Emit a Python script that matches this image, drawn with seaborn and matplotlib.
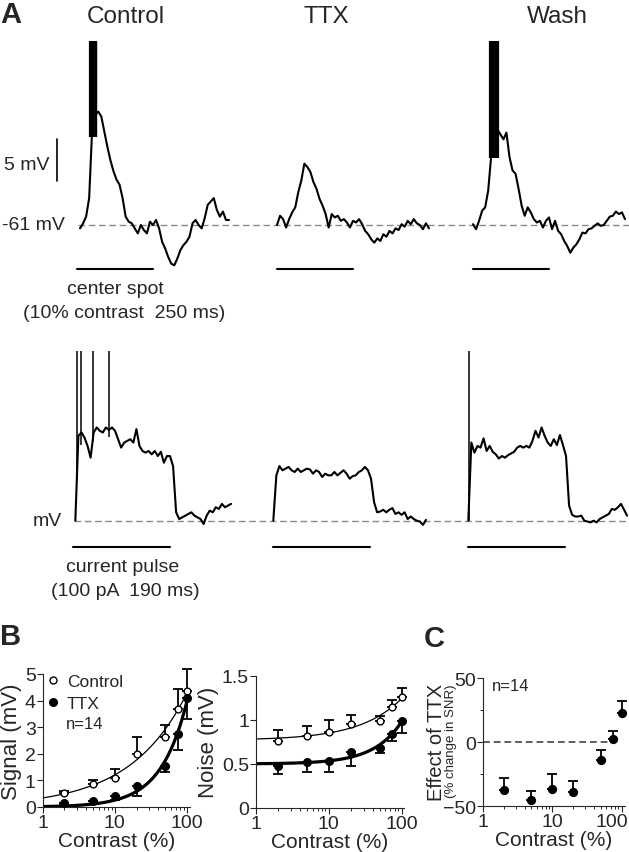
import numpy as np
import pandas as pd
import seaborn as sns
import matplotlib
matplotlib.use("Agg")
import matplotlib.pyplot as plt
from matplotlib.lines import Line2D
from matplotlib.transforms import ScaledTranslation

# ---- panel A: membrane potential traces (deflection from rest, mV) ----
rest_mv = -61
# visual stimulus row, samples every 10 ms
ctrl_spot_t0 = 10
ctrl_spot = [-0.4, 0.2, 1.0, 3.2, 11.5, 13.1, 13.5, 12.9, 11.1, 9.3,
             7.7, 6.4, 5.4, 4.8, 3.2, 1.0, 0.4, 0.2, -0.4, -1.0,
             0.0, -0.6, -1.0, 0.4, 0.0, 0.6, -0.4, -2.0, -2.8, -3.8,
             -4.6, -4.8, -4.0, -3.0, -2.4, -2.0, -1.4, 0.2, 0.6, 0.0,
             -0.4, 0.8, 2.4, 2.8, 3.2, 1.8, 1.0, 1.6, 0.6, 0.6]
ttx_spot_t0 = 0
ttx_spot = [0.0, 1.1, 0.7, -0.3, 0.7, 1.5, 2.1, 3.9, 5.3, 7.3,
            6.9, 6.3, 5.1, 4.3, 3.1, 2.3, 1.3, -0.3, 1.3, 0.9,
            1.1, 0.5, 0.7, 0.3, -0.3, 0.5, 0.3, 0.7, 0.1, -0.7,
            -1.1, -1.7, -2.1, -1.6, -1.9, -1.1, -1.4, -0.7, -1.0, -0.4,
            -0.6, 0.1, -0.2, 0.5, 0.1, 0.7, 0.2, 0.0, -0.5, 0.2, -0.4]
wash_spot_t0 = 0
wash_spot = [0.1, -0.5, 0.5, 1.7, 2.1, 4.1, 8.3, 10.2, 11.4, 10.8,
             10.2, 11.0, 8.1, 6.5, 6.1, 4.3, 2.3, 1.1, 2.1, 1.5,
             0.7, 0.3, 0.5, -0.3, 0.5, 0.9, -0.5, 0.5, -0.7, -1.1,
             -1.9, -2.5, -3.3, -2.7, -2.3, -1.7, -0.9, -1.0, -0.5, -0.4,
             -0.1, 0.2, -0.1, 0.0, 0.5, 1.0, 1.1, 1.6, 1.3, 1.5, 0.7]
spot_dt = 10
spot_dur = 250
ctrl_spot_spikes = [43, 46, 49, 52, 55, 58, 61, 64]
wash_spot_spikes = [56, 59, 62, 65, 68, 71, 74, 77, 80, 83]
spot_spike_peak = 21.9

# current injection row, samples every 6 ms
ctrl_pulse_t0 = 4
ctrl_pulse = [0.0, 10.1, 10.5, 9.9, 8.9, 7.5, 10.5, 11.1, 10.7, 10.5,
              11.1, 10.8, 11.1, 10.7, 9.7, 8.7, 9.3, 9.5, 9.7, 9.3,
              10.9, 8.9, 8.3, 8.1, 8.3, 7.9, 8.3, 7.7, 8.2, 6.9,
              7.7, 7.7, 6.5, 1.0, 0.2, 0.4, 0.6, 0.8, 1.0, 0.6,
              0.4, 0.2, -0.4, 0.6, 1.2, 1.0, 1.6, 1.4, 2.0, 1.6, 1.8, 2.0]
ttx_pulse_t0 = 0
ttx_pulse = [0.0, 5.4, 6.5, 6.0, 6.2, 6.4, 6.0, 5.8, 6.2, 5.8,
             6.0, 6.2, 6.1, 5.6, 6.0, 5.8, 5.2, 5.6, 5.4, 5.4,
             5.8, 5.4, 5.7, 6.0, 5.6, 5.0, 5.3, 5.4, 5.8, 6.0,
             6.4, 6.0, 5.0, 2.2, 1.0, 1.1, 1.3, 1.0, 1.3, 1.5,
             0.8, 1.0, 0.7, 1.0, 0.2, 0.5, 0.2, 0.0, -0.1, -0.5, 0.1]
wash_pulse_t0 = 0
wash_pulse = [0.0, 9.3, 8.1, 8.9, 8.7, 9.8, 8.3, 8.9, 8.2, 7.9,
              7.4, 7.7, 7.5, 7.8, 8.0, 8.2, 8.7, 8.9, 8.7, 8.9,
              8.7, 9.5, 10.7, 9.9, 11.1, 10.1, 9.3, 8.9, 9.7, 9.0,
              10.2, 9.0, 7.7, 1.8, 0.7, 0.5, 0.5, 0.6, 0.0, -0.1,
              -0.2, 0.0, -0.2, 0.2, 0.4, 0.6, 0.8, 1.4, 1.3, 1.6, 2.0, 1.3, 0.6]
pulse_dt = 6
pulse_dur = 190
ctrl_pulse_spikes = [6.6, 14.5, 38, 70.7]
ctrl_pulse_spike_base = [5, 9, 9.5, 10]
wash_pulse_spikes = [1]
wash_pulse_spike_base = [0]
pulse_spike_peak = 20.2

# ---- panel B / C ----
contrast = [2, 5, 10, 20, 50, 75, 100]
signal_ctrl = [0.54, 0.86, 1.08, 2.0, 2.65, 3.7, 4.37]
signal_ctrl_err = [0.08, 0.15, 0.34, 0.65, 0.44, 0.72, 0.83]
signal_ttx = [0.15, 0.24, 0.4, 0.78, 1.54, 2.74, 4.1]
signal_ttx_err = [0.03, 0.03, 0.15, 0.35, 0.24, 0.59, 0.8]
noise_ctrl = [0.765, 0.82, 0.867, 0.955, 0.985, 1.15, 1.26]
noise_ctrl_err = [0.115, 0.115, 0.133, 0.105, 0.06, 0.08, 0.10]
noise_ttx = [0.48, 0.52, 0.53, 0.63, 0.68, 0.84, 0.99]
noise_ttx_err = [0.09, 0.11, 0.12, 0.15, 0.06, 0.08, 0.14]
snr_effect = [-37, -44.8, -36.4, -38.5, -14, 2.9, 23]
snr_effect_err = [9.2, 6.8, 11.4, 8.1, 8.3, 5.7, 9]

W, H = 629, 853
sns.set_style("ticks")
plt.rcParams["font.family"] = ["Liberation Sans", "DejaVu Sans"]
fig = plt.figure(figsize=(W / 100, H / 100), dpi=100)


def fx(x):
    return x / W


def fy(y):
    return 1 - y / H


def px_axes(left, top, right, bottom):
    return fig.add_axes([fx(left), fy(bottom), (right - left) / W, (bottom - top) / H])


def trace(ax, vals, t0, dt, offset):
    t = offset + t0 + dt * np.arange(len(vals))
    sns.lineplot(x=t, y=vals, ax=ax, color="k", lw=1.5, estimator=None, sort=False)


# ---------------- panel A ----------------
spot_pxms = 0.304
pulse_pxms = 0.509
mv_px = 8.4

ax_top = px_axes(0, 30, W, 285)
ax_top.set_xlim(-77 / spot_pxms, (W - 77) / spot_pxms)
ax_top.set_ylim(-(285 - 226) / mv_px, (226 - 30) / mv_px)
ax_top.axis("off")
spot_offsets = [0, (277 - 77) / spot_pxms, (473 - 77) / spot_pxms]

ax_top.axhline(0, xmin=78 / W, xmax=1, color="#8a8a8a", lw=1.0, dashes=(4.8, 2.6))
for vals, t0, off in zip([ctrl_spot, ttx_spot, wash_spot],
                         [ctrl_spot_t0, ttx_spot_t0, wash_spot_t0], spot_offsets):
    trace(ax_top, vals, t0, spot_dt, off)
    ax_top.plot([off, off + spot_dur], [-5.24, -5.24], color="k", lw=1.5)
ax_top.vlines(ctrl_spot_spikes, 10.5, spot_spike_peak, color="k", lw=1.6)
ax_top.vlines(np.array(wash_spot_spikes) + spot_offsets[2], 8, spot_spike_peak, color="k", lw=1.6)
# 5 mV scale bar
ax_top.plot([-65.8, -65.8], [5.24, 5.24 + 5], color="k", lw=1.2)

ax_bot = px_axes(0, 330, W, 560)
ax_bot.set_xlim(-73.3 / pulse_pxms, (W - 73.3) / pulse_pxms)
ax_bot.set_ylim(-(560 - 521.7) / mv_px, (521.7 - 330) / mv_px)
ax_bot.axis("off")
pulse_offsets = [0, (273.3 - 73.3) / pulse_pxms, (468.3 - 73.3) / pulse_pxms]

ax_bot.axhline(0, xmin=74 / W, xmax=1, color="#8a8a8a", lw=1.0, dashes=(4.8, 2.6))
for vals, t0, off in zip([ctrl_pulse, ttx_pulse, wash_pulse],
                         [ctrl_pulse_t0, ttx_pulse_t0, wash_pulse_t0], pulse_offsets):
    trace(ax_bot, vals, t0, pulse_dt, off)
    ax_bot.plot([off, off + pulse_dur], [-3.13, -3.13], color="k", lw=1.5)
ax_bot.vlines(ctrl_pulse_spikes, ctrl_pulse_spike_base, pulse_spike_peak, color="k", lw=1.1)
ax_bot.vlines(np.array(wash_pulse_spikes) + pulse_offsets[2], wash_pulse_spike_base,
              pulse_spike_peak, color="k", lw=1.1)

fig.text(fx(0), fy(15), "A", fontsize=21, fontweight="bold", va="center", ha="left")
for name, xc in [("Control", 126), ("TTX", 326), ("Wash", 557)]:
    fig.text(fx(xc), fy(17), name, fontsize=17.5, ha="center", va="center")
fig.text(fx(50), fy(166), "5 mV", fontsize=14, ha="right", va="center")
fig.text(fx(65), fy(226), "-61 mV", fontsize=14, ha="right", va="center")
fig.text(fx(62), fy(522), "mV", fontsize=14, ha="right", va="center")
fig.text(fx(115), fy(290), "center spot", fontsize=14, ha="center", va="center")
fig.text(fx(124), fy(314), "(10% contrast  250 ms)", fontsize=14, ha="center", va="center")
fig.text(fx(123), fy(568), "current pulse", fontsize=14, ha="center", va="center")
fig.text(fx(125), fy(592), "(100 pA  190 ms)", fontsize=14, ha="center", va="center")


# ---------------- panels B and C ----------------
def power_fit(x, y, offset=True):
    # least-squares fit of y = a + b * c**n (a = 0 when offset is False)
    x = np.asarray(x, float)
    y = np.asarray(y, float)
    best = None
    for n in np.linspace(0.2, 3.0, 281):
        cols = [np.ones_like(x), x ** n] if offset else [x ** n]
        A = np.column_stack(cols)
        coef, *_ = np.linalg.lstsq(A, y, rcond=None)
        sse = np.sum((A @ coef - y) ** 2)
        if best is None or sse < best[0]:
            best = (sse, n, coef)
    _, n, coef = best
    a, b = (coef[0], coef[1]) if offset else (0.0, coef[0])
    return lambda c: a + b * c ** n


def style_log(ax, xmax):
    ax.set_xscale("log")
    ax.set_xlim(1, xmax)
    ax.set_xticks([1, 10, 100])
    ax.set_xticklabels(["1", "10", "100"])
    ax.tick_params(which="major", direction="out", length=4, width=0.8, labelsize=14, pad=1)
    ax.tick_params(which="minor", direction="out", length=2, width=0.7)
    ax.tick_params(axis="x", which="minor", labelbottom=False)
    for s in ["left", "bottom"]:
        ax.spines[s].set_linewidth(0.8)
    sns.despine(ax=ax)
    ax.set_xlabel("Contrast (%)", fontsize=15, labelpad=0)


def points(ax, y, err, lower, filled, size):
    yerr = [err, [0] * len(err)] if lower else [[0] * len(err), err]
    ax.errorbar(contrast, y, yerr=yerr, fmt="none", ecolor="k", elinewidth=1.3,
                capsize=3.5, capthick=1.3, zorder=2, clip_on=False)
    sns.scatterplot(x=contrast, y=y, ax=ax, s=size, color="k" if filled else "white",
                    edgecolor="k", linewidth=1.0, zorder=3, clip_on=False, legend=False)


cc = np.logspace(0, 2, 200)

ax_sig = px_axes(42.7, 675, 190, 808)
style_log(ax_sig, 110)
ax_sig.set_ylim(0, 5)
ax_sig.set_yticks([0, 1, 2, 3, 4, 5])
sns.lineplot(x=cc, y=power_fit(contrast, signal_ctrl, False)(cc), ax=ax_sig, color="k", lw=0.9)
sns.lineplot(x=cc, y=power_fit(contrast, signal_ttx, False)(cc), ax=ax_sig, color="k", lw=2.3)
points(ax_sig, signal_ctrl, signal_ctrl_err, False, False, 24)
points(ax_sig, signal_ttx, signal_ttx_err, True, True, 30)
ax_sig.set_ylabel("Signal (mV)", fontsize=16, labelpad=2)
handles = [Line2D([], [], ls="", marker="o", mfc="white", mec="k", ms=5),
           Line2D([], [], ls="", marker="o", mfc="k", mec="k", ms=5.5)]
ax_sig.legend(handles, ["Control", "TTX"], loc="upper left", bbox_to_anchor=(0.035, 1.0),
              frameon=False, fontsize=12.5, handlelength=0.6, handletextpad=0.5,
              labelspacing=0.4, borderaxespad=0, borderpad=0)
ax_sig.text(0.16, 0.63, "n=14", transform=ax_sig.transAxes, fontsize=12, ha="left", va="center")

ax_noise = px_axes(256, 676.7, 404, 809)
style_log(ax_noise, 108)
ax_noise.set_ylim(0, 1.5)
ax_noise.set_yticks([0, 0.5, 1, 1.5])
ax_noise.set_yticklabels(["0", "0.5", "1", "1.5"])
sns.lineplot(x=cc, y=power_fit(contrast, noise_ctrl)(cc), ax=ax_noise, color="k", lw=0.9)
sns.lineplot(x=cc, y=power_fit(contrast, noise_ttx)(cc), ax=ax_noise, color="k", lw=2.3)
points(ax_noise, noise_ctrl, noise_ctrl_err, False, False, 24)
points(ax_noise, noise_ttx, noise_ttx_err, True, True, 30)
ax_noise.set_ylabel("Noise (mV)", fontsize=16, labelpad=2)

ax_c = px_axes(483, 679.3, 625, 807.3)
style_log(ax_c, 112)
ax_c.set_ylim(-50, 50)
ax_c.set_yticks([-50, 0, 50])
ax_c.set_yticks([-25, 25], minor=True)
ax_c.axhline(0, xmax=0.92, color="#333333", lw=1.1, dashes=(4.5, 2.5))
points(ax_c, snr_effect, snr_effect_err, False, True, 32)
ax_c.text(0.06, 0.94, "n=14", transform=ax_c.transAxes, fontsize=12, ha="left", va="center")
# the "100" label sits a little left of its tick in the original
lab100 = ax_c.get_xticklabels()[-1]
lab100.set_transform(lab100.get_transform() + ScaledTranslation(-10 / 100, 0, fig.dpi_scale_trans))
fig.text(fx(436), fy(742), "Effect of TTX", fontsize=14.5, rotation=90, ha="center", va="center")
fig.text(fx(451), fy(741), "(% change in SNR)", fontsize=9.5, rotation=90, ha="center", va="center")

fig.text(fx(0), fy(637), "B", fontsize=21, fontweight="bold", va="center", ha="left")
fig.text(fx(424), fy(639), "C", fontsize=21, fontweight="bold", va="center", ha="left")

fig.savefig("out.png", dpi=100)
